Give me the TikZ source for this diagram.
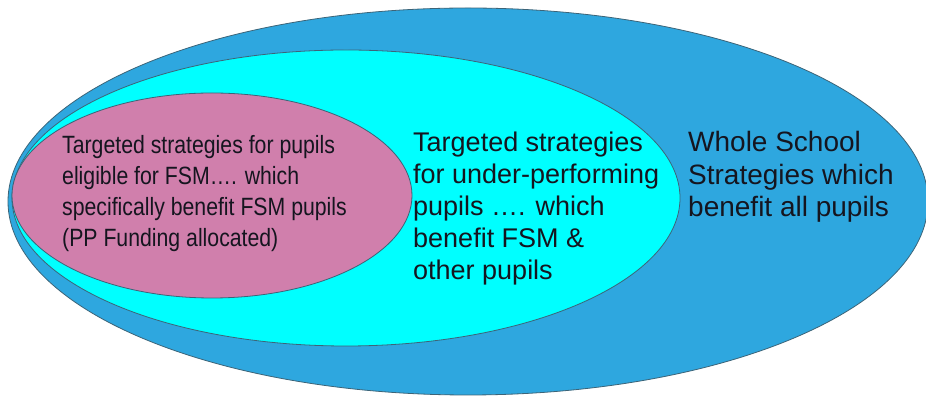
\documentclass[tikz,border=0pt]{standalone}
\usepackage{fontspec}
\setmainfont{Liberation Sans}
\newfontfamily\narrowfont[FakeStretch=0.85]{Liberation Sans}
\definecolor{outerblue}{HTML}{2EA7DF}
\definecolor{midcyan}{HTML}{00FFFF}
\definecolor{innerpink}{HTML}{D07FAC}
\definecolor{edgecol}{HTML}{3C6478}
\definecolor{txt}{HTML}{15151F}
\begin{document}
\begin{tikzpicture}[x=1pt,y=1pt,
  zone/.style={draw=edgecol, line width=0.8pt},
  lbl/.style={inner sep=0pt, anchor=base west, align=left, text=txt}]
\useasboundingbox (0,0) rectangle (926,398);
\fill[white] (0,0) rectangle (926,398);
\draw[zone, fill=outerblue] (468,196.5) ellipse [x radius=460, y radius=193.5];
\draw[zone, fill=midcyan] (346,200) ellipse [x radius=334, y radius=148];
\draw[zone, fill=innerpink] (212,202.5) ellipse [x radius=200, y radius=102.5];
\node[lbl, font=\narrowfont\fontsize{25}{31.3}\selectfont] (fsm) at (62,151)
  {Targeted strategies for pupils\\eligible for FSM…. which\\specifically benefit FSM pupils\\(PP Funding allocated)};
\node[lbl, font=\fontsize{27}{32}\selectfont] (under) at (413,118)
  {Targeted strategies\\for under-performing\\pupils …. which\\benefit FSM \&\\other pupils};
\node[lbl, font=\fontsize{28}{32.5}\selectfont] (whole) at (688,181)
  {Whole School\\Strategies which\\benefit all pupils};
\end{tikzpicture}
\end{document}
